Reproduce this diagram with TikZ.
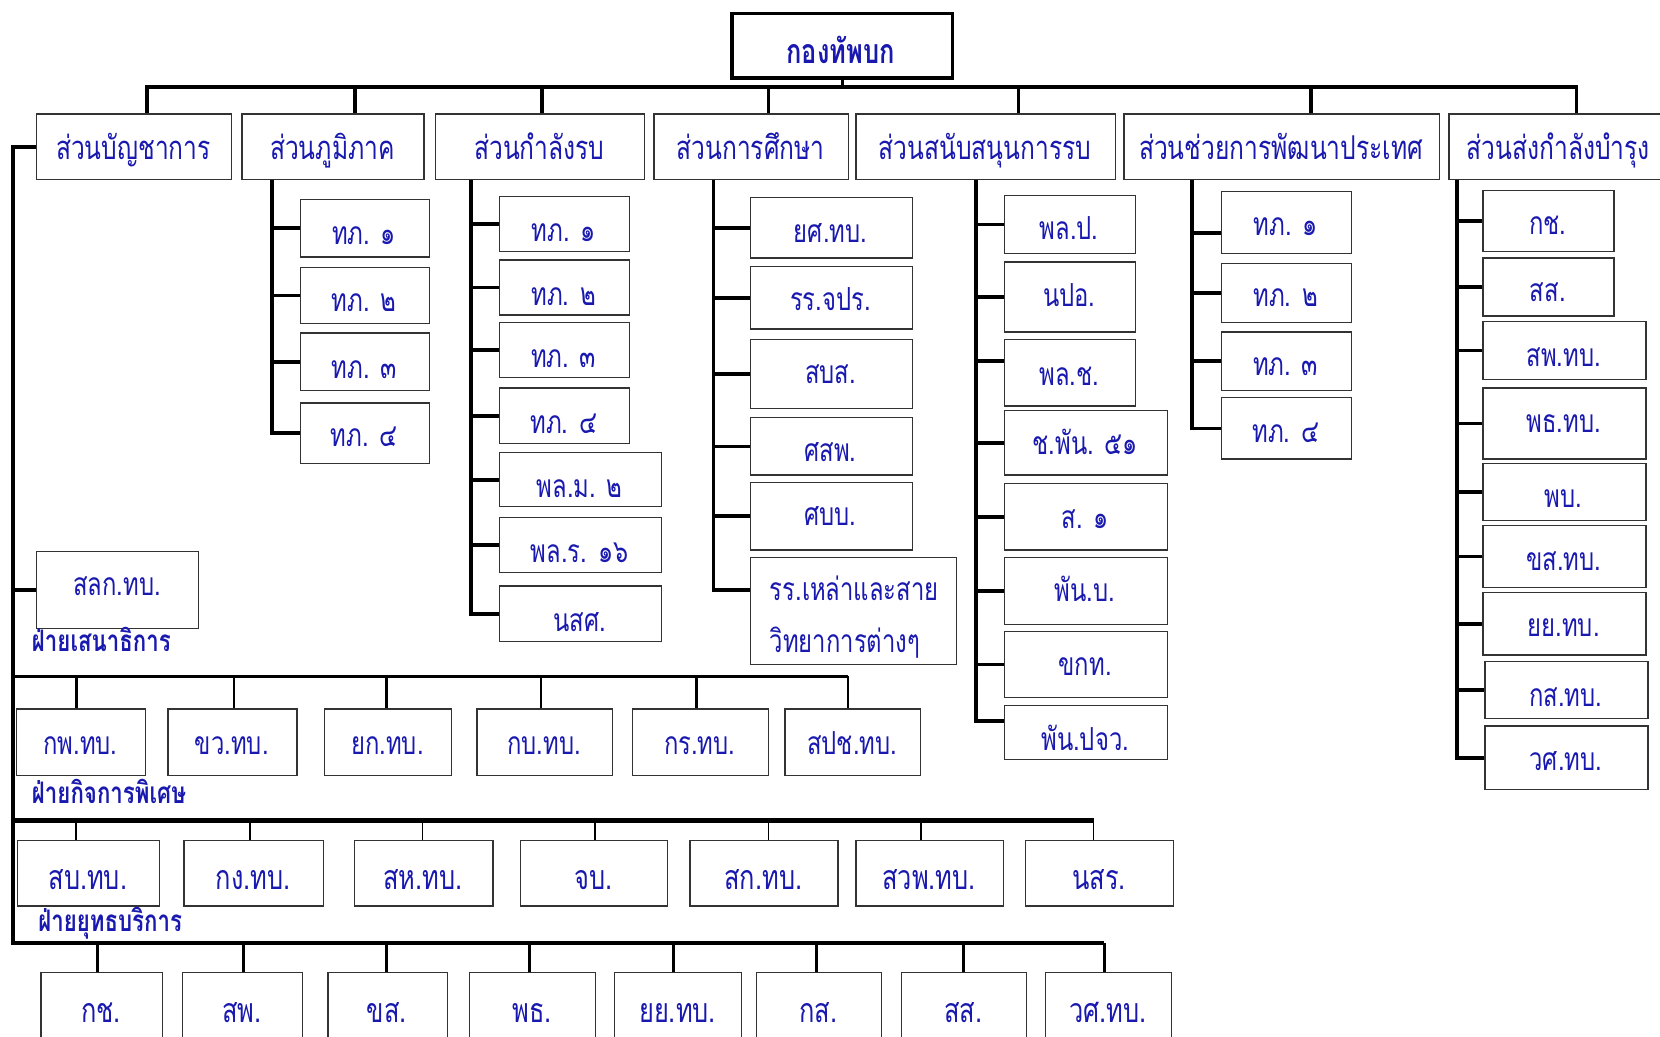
\documentclass[tikz,border=0pt]{standalone}
\usepackage{fontspec}
\newfontfamily\thai[Script=Thai,FakeStretch=0.75]{Loma}
\definecolor{tb}{RGB}{25,25,175}
\tikzset{
  box/.style={draw=black!80, line width=1.3pt, fill=white, inner sep=0pt},
  lbl/.style={text=tb, inner sep=0pt, font=\thai\fontsize{30}{30}\selectfont, text height=15pt, text depth=0pt},
  lone/.style={font=\thai\fontsize{31}{31}\selectfont, text height=16pt},
  bigt/.style={font=\thai\fontsize{32}{32}\selectfont, text height=16pt},
  boldt/.style={font=\thai\bfseries\fontsize{28}{28}\selectfont, text height=15pt},
  topt/.style={font=\thai\bfseries\fontsize{32}{32}\selectfont, text height=16pt},
  conn/.style={draw=black, line width=3.5pt},
  medconn/.style={draw=black, line width=2.6pt},
  thinconn/.style={draw=black, line width=1.6pt}
}
% [label style]{name}{x1}{y1}{x2}{y2}{text y}{text}
\newcommand\ob[8][]{%
  \node[box,anchor=north west,minimum width={(#5-#3)*1pt},minimum height={(#6-#4)*1pt}] (#2) at (#3,#4) {};
  \node[lbl,#1] (#2t) at ({(#3+#5)/2},#7) {#8};}
\begin{document}
\begin{tikzpicture}[x=1pt,y=-1pt]
\clip (0,0) rectangle (1568,979);
\fill[white] (0,0) rectangle (1568,979);

% ---------- top ----------
\node[box,line width=3.5pt,draw=black,anchor=north west,minimum width=208pt,minimum height=61pt] (top) at (690,11) {};
\node[lbl,topt] (topl) at (794,52) {กองทัพบก};

% ---------- level 1 ----------
\ob[lone]{la}{34}{107}{218}{169}{143}{ส่วนบัญชาการ}
\ob[lone]{lb}{228}{107}{400}{169}{143}{ส่วนภูมิภาค}
\ob[lone]{lc}{411}{107}{608}{169}{143}{ส่วนกำลังรบ}
\ob[lone]{ld}{617}{107}{801}{169}{143}{ส่วนการศึกษา}
\ob[lone]{le}{808}{107}{1053}{169}{143}{ส่วนสนับสนุนการรบ}
\ob[lone]{lf}{1061}{107}{1359}{169}{143}{ส่วนช่วยการพัฒนาประเทศ}
\ob[lone]{lg}{1368}{107}{1576}{169}{143}{ส่วนส่งกำลังบำรุง}

\coordinate (d1) at (139,82);
\coordinate (d2) at (335,82);
\coordinate (d3) at (512,82);
\coordinate (d4) at (726,82);
\coordinate (d5) at (962,82);
\coordinate (d6) at (1238,82);
\coordinate (d7) at (1489,82);
\draw[conn] (d1 |- la.north) -- (d1) -- (d7) -- (d7 |- lg.north);
\draw[conn] (top.south) -- (top.south |- d1);
\foreach \d/\b in {d2/lb,d3/lc,d4/ld,d5/le,d6/lf}{\draw[conn] (\d) -- (\d |- \b.north);}

% ---------- column: ภูมิภาค ----------
\ob{ba}{283}{188}{405}{242}{223}{ทภ. ๑}
\ob{bb}{283}{252}{405}{305}{286.5}{ทภ. ๒}
\ob{bc}{283}{314}{405}{368}{350}{ทภ. ๓}
\ob{bd}{283}{380}{405}{437}{414.5}{ทภ. ๔}
\coordinate (s2) at (257,0);
\draw[conn] (s2 |- lb.south) |- (bd.west);
\foreach \n in {ba,bb,bc}{\draw[conn] (s2 |- \n.west) -- (\n.west);}

% ---------- column: กำลังรบ ----------
\ob{ca}{471}{185}{594}{237}{221}{ทภ. ๑}
\ob{cb}{471}{245}{594}{297}{281}{ทภ. ๒}
\ob{cc}{471}{304}{594}{356}{340}{ทภ. ๓}
\ob{cd}{471}{366}{594}{418}{402}{ทภ. ๔}
\ob{ce}{471}{427}{624}{478}{462}{พล.ม. ๒}
\ob{cf}{471}{488}{624}{540}{524}{พล.ร. ๑๖}
\ob{cg}{471}{553}{624}{605}{589}{นสศ.}
\coordinate (s3) at (445,0);
\draw[conn] (s3 |- lc.south) |- (cg.west);
\foreach \n in {ca,cb,cc,cd,ce,cf}{\draw[conn] (s3 |- \n.west) -- (\n.west);}

% ---------- column: การศึกษา ----------
\ob{ea}{708}{186}{861}{243}{222}{ยศ.ทบ.}
\ob{eb}{708}{251}{861}{310}{285.6}{รร.จปร.}
\ob{ec}{708}{320}{861}{385}{354.6}{สบส.}
\ob{ed}{708}{394}{861}{448}{428.6}{ศสพ.}
\ob{ee}{708}{455}{861}{519}{489}{ศบบ.}
\node[box,anchor=north west,minimum width=195pt,minimum height=101pt] (ef) at (708,526) {};
\node[lbl,anchor=west] (eft1) at (727,560) {รร.เหล่าและสาย};
\node[lbl,anchor=west] (eft2) at (727,609) {วิทยาการต่างๆ};
\coordinate (s4) at (674,0);
\coordinate (efb) at ([yshift=20pt]ef.west);
\draw[conn] (s4 |- ld.south) |- (efb);
\foreach \n in {ea,eb,ec,ed,ee}{\draw[conn] (s4 |- \n.west) -- (\n.west);}

% ---------- column: สนับสนุนการรบ ----------
\ob{fa}{948}{184}{1072}{239}{218.6}{พล.ป.}
\ob{fb}{948}{247}{1072}{313}{282}{นปอ.}
\ob{fc}{948}{320}{1072}{383}{356.6}{พล.ช.}
\ob{fd}{948}{387}{1102}{448}{422}{ช.พัน. ๕๑}
\ob{fe}{948}{456}{1102}{519}{491.6}{ส. ๑}
\ob{ff}{948}{526}{1102}{589}{561}{พัน.บ.}
\ob{fg}{948}{596}{1102}{658}{631}{ขกท.}
\ob{fh}{948}{666}{1102}{717}{701.6}{พัน.ปจว.}
\coordinate (s5) at (922,0);
\coordinate (fcb) at ([yshift=11pt]fc.west);
\coordinate (fhb) at ([yshift=11pt]fh.west);
\draw[conn] (s5 |- le.south) |- (fhb);
\draw[conn] (s5 |- fcb) -- (fcb);
\foreach \n in {fa,fb,fd,fe,ff,fg}{\draw[conn] (s5 |- \n.west) -- (\n.west);}

% ---------- column: ช่วยการพัฒนาประเทศ ----------
\ob{ga}{1153}{180}{1276}{239}{214.6}{ทภ. ๑}
\ob{gb}{1153}{248}{1276}{304}{282}{ทภ. ๒}
\ob{gc}{1153}{313}{1276}{368}{347}{ทภ. ๓}
\ob{gd}{1153}{375}{1276}{433}{410}{ทภ. ๔}
\coordinate (s6) at (1126,0);
\coordinate (gab) at ([yshift=-10pt]ga.west);
\draw[conn] (s6 |- lf.south) |- (gd.west);
\draw[conn] (s6 |- gab) -- (gab);
\foreach \n in {gb,gc}{\draw[conn] (s6 |- \n.west) -- (\n.west);}

% ---------- column: ส่งกำลังบำรุง ----------
\ob{ha}{1400}{179}{1524}{237}{213.8}{กช.}
\ob{hb}{1400}{243}{1524}{298}{277.4}{สส.}
\ob{hc}{1400}{303}{1554}{358}{339}{สพ.ทบ.}
\ob{hd}{1400}{366}{1554}{433}{400.6}{พธ.ทบ.}
\ob{he}{1400}{437}{1554}{491}{472}{พบ.}
\ob{hf}{1400}{496}{1554}{554}{531}{ขส.ทบ.}
\ob{hg}{1400}{559}{1554}{618}{593.8}{ยย.ทบ.}
\ob{hh}{1402}{624}{1556}{678}{660}{กส.ทบ.}
\ob{hi}{1402}{685}{1556}{745}{720.7}{วศ.ทบ.}
\coordinate (s7) at (1376,0);
\draw[conn] (s7 |- lg.south) |- (hi.west);
\foreach \n in {ha,hb,hc,hd,he,hf,hg,hh}{\draw[conn] (s7 |- \n.west) -- (\n.west);}

% ---------- left: บัญชาการ ----------
\coordinate (ls) at (12,0);
\ob{slk}{34}{520}{187}{593}{555}{สลก.ทบ.}
\node[lbl,boldt,anchor=west] (fa1) at (30,608) {ฝ่ายเสนาธิการ};

% row 1
\ob{pa}{15}{669}{137}{732}{705}{กพ.ทบ.}
\ob{pb}{158}{669}{280}{732}{705}{ขว.ทบ.}
\ob{pc}{306}{669}{426}{732}{705}{ยก.ทบ.}
\ob{pd}{450}{669}{578}{732}{705}{กบ.ทบ.}
\ob{pe}{597}{669}{725}{732}{705}{กร.ทบ.}
\ob{pf}{741}{669}{869}{732}{705}{สปช.ทบ.}
\node[lbl,boldt,anchor=west] (fa2) at (30,751.5) {ฝ่ายกิจการพิเศษ};

% row 2
\ob[bigt]{qa}{16}{793}{150}{855}{832.6}{สบ.ทบ.}
\ob[bigt]{qb}{173}{793}{305}{855}{832.6}{กง.ทบ.}
\ob[bigt]{qc}{334}{793}{465}{855}{832.6}{สห.ทบ.}
\ob[bigt]{qd}{491}{793}{630}{855}{832.6}{จบ.}
\ob[bigt]{qe}{651}{793}{791}{855}{832.6}{สก.ทบ.}
\ob[bigt]{qf}{808}{793}{947}{855}{832.6}{สวพ.ทบ.}
\ob[bigt]{qg}{968}{793}{1108}{855}{832.6}{นสร.}
\node[lbl,boldt,anchor=west] (fa3) at (36,872.5) {ฝ่ายยุทธบริการ};

% row 3
\ob[bigt]{ua}{38}{918}{153}{1000}{957.6}{กช.}
\ob[bigt]{ub}{172}{918}{285}{1000}{957.6}{สพ.}
\ob[bigt]{uc}{309}{918}{422}{1000}{957.6}{ขส.}
\ob[bigt]{ud}{443}{918}{562}{1000}{957.6}{พธ.}
\ob[bigt]{ue}{580}{918}{700}{1000}{957.6}{ยย.ทบ.}
\ob[bigt]{uf}{714}{918}{832}{1000}{957.6}{กส.}
\ob[bigt]{ug}{851}{918}{969}{1000}{957.6}{สส.}
\ob[bigt]{uh}{987}{918}{1106}{1000}{957.6}{วศ.ทบ.}

% left spine and bars
\coordinate (b3h) at (1043,891);
\draw[conn] (la.west) -| (ls |- b3h) -- (b3h);
\draw[conn] (ls |- slk.west) -- (slk.west);

\coordinate (b1a) at (72,639);
\coordinate (b1b) at (221,639);
\coordinate (b1c) at (365,639);
\coordinate (b1d) at (511,639);
\coordinate (b1e) at (658,639);
\coordinate (b1f) at (801,639);
\draw[conn] (ls |- b1a) -- (b1f);
\foreach \c/\b in {b1a/pa,b1b/pb,b1c/pc,b1d/pd,b1e/pe,b1f/pf}{\draw[medconn] (\c) -- (\c |- \b.north);}

\coordinate (b2a) at (72,775);
\coordinate (b2b) at (236,775);
\coordinate (b2c) at (399,775);
\coordinate (b2d) at (562,775);
\coordinate (b2e) at (726,775);
\coordinate (b2f) at (870,775);
\coordinate (b2g) at (1033,775);
\draw[conn,line width=4pt] (ls |- b2a) -- (b2g);
\foreach \c/\b in {b2a/qa,b2b/qb,b2c/qc,b2d/qd,b2e/qe,b2f/qf,b2g/qg}{\draw[thinconn] (\c) -- (\c |- \b.north);}

\coordinate (b3a) at (92,891);
\coordinate (b3b) at (230,891);
\coordinate (b3c) at (365,891);
\coordinate (b3d) at (500,891);
\coordinate (b3e) at (636,891);
\coordinate (b3f) at (771,891);
\coordinate (b3g) at (910,891);
\foreach \c/\b in {b3a/ua,b3b/ub,b3c/uc,b3d/ud,b3e/ue,b3f/uf,b3g/ug,b3h/uh}{\draw[medconn] (\c) -- (\c |- \b.north);}
\end{tikzpicture}
\end{document}
